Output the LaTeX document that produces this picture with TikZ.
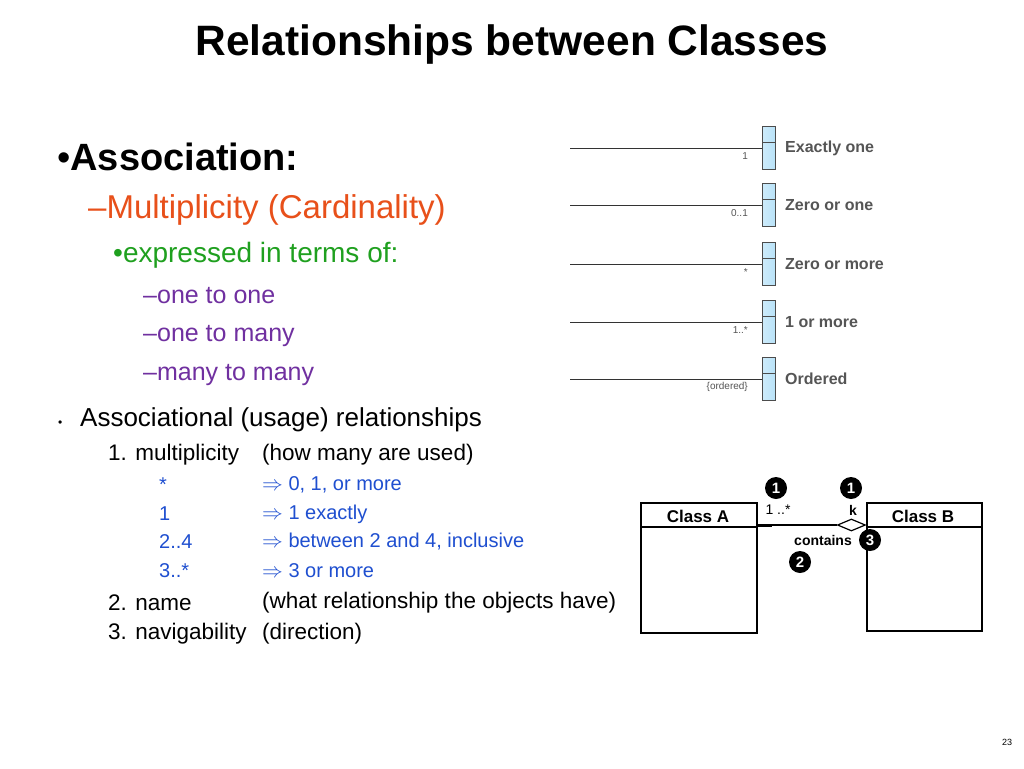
\documentclass[tikz,border=0pt]{standalone}
\usepackage{fontspec}
\setmainfont{Liberation Sans}
\usetikzlibrary{shapes.geometric}
\definecolor{orng}{HTML}{E8501A}
\definecolor{grn}{HTML}{1FA01F}
\definecolor{purp}{HTML}{7030A0}
\definecolor{blu}{HTML}{1F4FD0}
\definecolor{lblue}{HTML}{B8E2F8}
\definecolor{gtxt}{HTML}{555555}
\begin{document}
\begin{tikzpicture}[x=1pt,y=-1pt,
  txt/.style={anchor=west,inner sep=0pt},
  mlab/.style={anchor=west,inner sep=0pt,text=gtxt,font=\fontsize{16}{16}\selectfont\bfseries},
  mult/.style={anchor=east,inner sep=0pt,text=gtxt,font=\fontsize{10}{10}\selectfont},
  cls/.style={draw,line width=1.5pt},
  num/.style={circle,fill=black,text=white,inner sep=0pt,minimum size=22pt,font=\fontsize{15}{15}\selectfont\bfseries}]
\useasboundingbox[fill=white] (0,0) rectangle (1024,768);
\node (title) at (512,45) {\fontsize{42.5}{42.5}\selectfont\bfseries Relationships between Classes};
\node[txt] (b1) at (57,157) {\fontsize{38}{38}\selectfont\textbullet\bfseries Association:};
\node[txt,text=orng] (m) at (88,210) {\fontsize{33}{33}\selectfont –Multiplicity (Cardinality)};
\node[txt,text=grn] (e) at (113,255) {\fontsize{28}{28}\selectfont\textbullet expressed in terms of:};
\node[txt,text=purp] (o1) at (143,296) {\fontsize{25}{25}\selectfont –one to one};
\node[txt,text=purp] (o2) at (143,336) {\fontsize{25}{25}\selectfont –one to many};
\node[txt,text=purp] (o3) at (143,375) {\fontsize{25}{25}\selectfont –many to many};
\node[txt] (sb) at (58,424) {\fontsize{12}{12}\selectfont\textbullet};
\node[txt] (ar) at (80,420) {\fontsize{26}{26}\selectfont Associational (usage) relationships};
\foreach \y/\a/\b [count=\i] in {455/1. multiplicity/(how many are used),603/2. name/(what relationship the objects have),634/3. navigability/(direction)}{
  \node[txt] (l\i) at (108,\y) {\fontsize{22.5}{22.5}\selectfont \a};
  \node[txt] (r\i) at (262,\y) {\fontsize{22.5}{22.5}\selectfont \b};}
\foreach \y/\a/\b [count=\i] in {485/*/{0, 1, or more},514/1/1 exactly,542/2..4/{between 2 and 4, inclusive},571/3..*/3 or more}{
  \node[txt,text=blu] (s\i) at (159,\y) {\fontsize{20}{20}\selectfont \a};
  \node[txt,text=blu] (t\i) at (262,\y) {\fontsize{20}{20}\selectfont $\Rightarrow$ \b};}
\node[txt] (pg) at (1002,742) {\fontsize{9}{9}\selectfont\rmfamily 23};
% multiplicity figure
\foreach \y/\m/\l [count=\i] in {148/1/Exactly one,205/0..1/Zero or one,264/*/Zero or more,322/1..*/1 or more,379/\{ordered\}/Ordered}{
  \coordinate (a\i) at (570,\y);
  \node[draw=black!70,line width=0.8pt,left color=lblue!70,right color=lblue,minimum width=13pt,minimum height=43pt,inner sep=0pt,anchor=west] (bx\i) at (762,\y) {};
  \draw[black!70,line width=0.8pt] ([yshift=5.5pt]bx\i.west) -- ([yshift=5.5pt]bx\i.east);
  \draw[black!80,line width=0.9pt] (a\i) -- (bx\i.west |- a\i);
  \node[mult] (mu\i) at (748,\y+8) {\m};
  \node[mlab] (lb\i) at (785,\y) {\l};}
% class diagram
\node[cls,minimum width=116pt,minimum height=130pt,inner sep=0pt,anchor=north west] (A) at (640,502) {};
\node[cls,minimum width=115pt,minimum height=128pt,inner sep=0pt,anchor=north west] (B) at (866,502) {};
\draw[line width=1.5pt] (640,527) -- (756,527);
\draw[line width=1.5pt] (866,527) -- (981,527);
\node[font=\fontsize{17}{17}\selectfont\bfseries] (An) at (698,516) {Class A};
\node[font=\fontsize{17}{17}\selectfont\bfseries] (Bn) at (923,516) {Class B};
\node[diamond,draw,line width=1.2pt,fill=white,minimum width=28pt,minimum height=12pt,inner sep=0pt,anchor=east] (d) at (866,525) {};
\draw[line width=1.2pt] (756,525) -- (d.west);
\draw[line width=2pt] (756,526) -- (772,526);
\node[font=\fontsize{14}{14}\selectfont] (m1) at (778,510) {1 ..*};
\node[font=\fontsize{14}{14}\selectfont\bfseries] (mk) at (853,510) {k};
\node[font=\fontsize{14}{14}\selectfont\bfseries] (ct) at (823,540) {contains};
\node[num] (n1) at (776,488) {1};
\node[num] (n2) at (851,488) {1};
\node[num] (n3) at (870,540) {3};
\node[num] (n4) at (800,562) {2};
\end{tikzpicture}
\end{document}
